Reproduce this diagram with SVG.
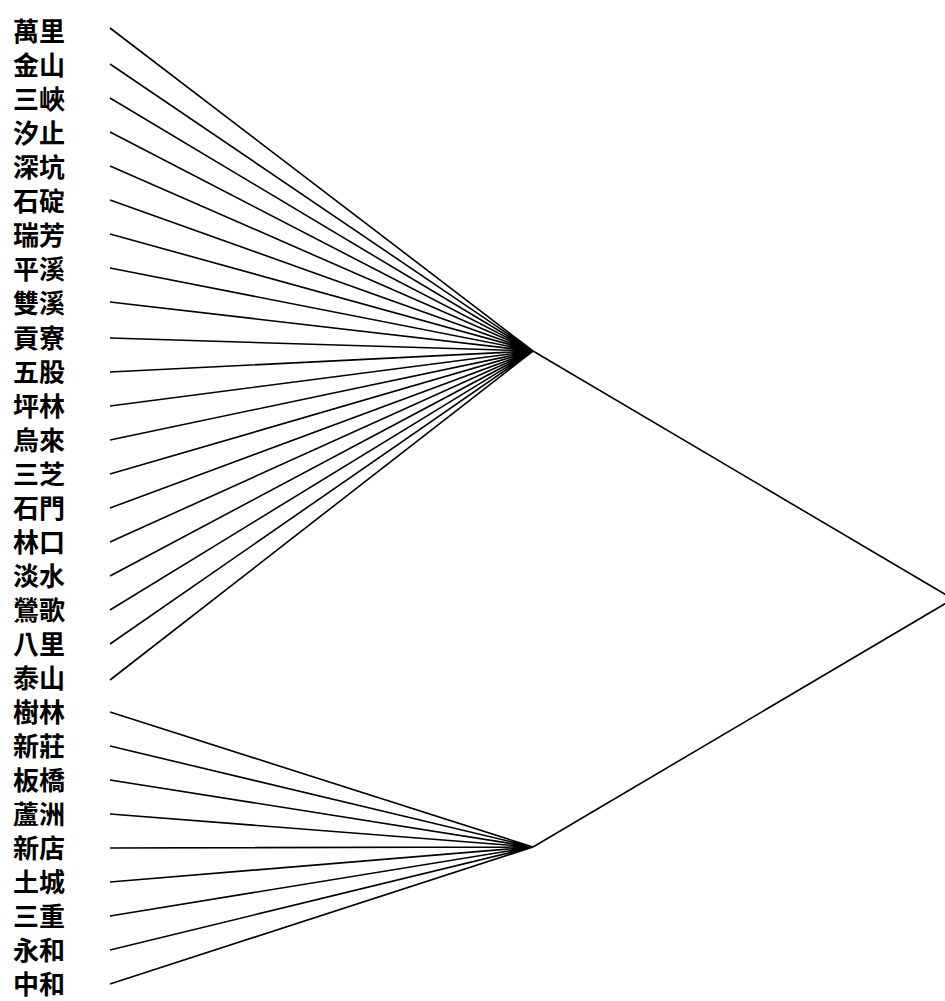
<svg xmlns="http://www.w3.org/2000/svg" width="945" height="1001" viewBox="0 0 945 1001">
<style>
.lbl{font-family:"Noto Sans CJK TC","Noto Sans CJK SC",sans-serif;font-size:26px;font-weight:bold;fill:#000}
.e{stroke:#000;stroke-width:1.6;fill:none}
</style>
<rect width="945" height="1001" fill="#fff"/>
<g id="connectors">
<path class="e" d="M110 28L533 351M110 64L533 351M110 98L533 351M110 132L533 351M110 166L533 351M110 200L533 351M110 234L533 351M110 268L533 351M110 302L533 351M110 338L533 351M110 372L533 351M110 406L533 351M110 440L533 351M110 474L533 351M110 508L533 351M110 542L533 351M110 576L533 351M110 610L533 351M110 644L533 351M110 680L533 351"/>
<path class="e" d="M110 712L533 847M110 746L533 847M110 780L533 847M110 814L533 847M110 848L533 847M110 882L533 847M110 916L533 847M110 950L533 847M110 984L533 847"/>
<path class="e" d="M533 351L953 599M533 847L953 599"/>
</g>
<g id="labels">
<text class="lbl" x="13" y="41">萬里</text>
<text class="lbl" x="13" y="75">金山</text>
<text class="lbl" x="13" y="109">三峽</text>
<text class="lbl" x="13" y="143">汐止</text>
<text class="lbl" x="13" y="177">深坑</text>
<text class="lbl" x="13" y="211">石碇</text>
<text class="lbl" x="13" y="245">瑞芳</text>
<text class="lbl" x="13" y="279">平溪</text>
<text class="lbl" x="13" y="313">雙溪</text>
<text class="lbl" x="13" y="348">貢寮</text>
<text class="lbl" x="13" y="382">五股</text>
<text class="lbl" x="13" y="416">坪林</text>
<text class="lbl" x="13" y="450">烏來</text>
<text class="lbl" x="13" y="484">三芝</text>
<text class="lbl" x="13" y="518">石門</text>
<text class="lbl" x="13" y="552">林口</text>
<text class="lbl" x="13" y="586">淡水</text>
<text class="lbl" x="13" y="620">鶯歌</text>
<text class="lbl" x="13" y="654">八里</text>
<text class="lbl" x="13" y="688">泰山</text>
<text class="lbl" x="13" y="722">樹林</text>
<text class="lbl" x="13" y="756">新莊</text>
<text class="lbl" x="13" y="790">板橋</text>
<text class="lbl" x="13" y="824">蘆洲</text>
<text class="lbl" x="13" y="858">新店</text>
<text class="lbl" x="13" y="892">土城</text>
<text class="lbl" x="13" y="926">三重</text>
<text class="lbl" x="13" y="960">永和</text>
<text class="lbl" x="13" y="994">中和</text>
</g>
</svg>
